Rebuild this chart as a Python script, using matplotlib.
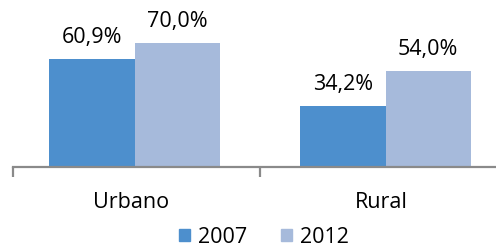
import numpy as np
from matplotlib import pyplot as plt
from matplotlib.patches import Patch

categories = ["Urbano", "Rural"]
years = ["2007", "2012"]
values_2007 = [60.9, 34.2]
values_2012 = [70.0, 54.0]

colors = ["#4d8fcd", "#a6badb"]
axis_color = "#8a8a8a"

plt.rcParams['font.family'] = ['Open Sans', 'DejaVu Sans']

fig = plt.figure(figsize=(4.96, 2.47), dpi=100)
# axes spans from the left tick to the right edge, bottom spine at the baseline
ax = fig.add_axes([13 / 496, 80 / 247, 483 / 496, 167 / 247])

x = np.arange(len(categories))
width = 0.34

series = [values_2007, values_2012]
for i, vals in enumerate(series):
    pos = x + (i - 0.5) * width
    bars = ax.bar(pos, vals, width, color=colors[i], label=years[i])
    for b, v in zip(bars, vals):
        ax.annotate(
            f"{v:.1f}%".replace(".", ","),
            (b.get_x() + b.get_width() / 2, v),
            xytext=(0, 8),
            textcoords="offset points",
            ha="center",
            va="bottom",
            fontsize=15.5,
            color="#000000",
        )

ax.set_xlim(-0.484, 1.44)
ax.set_ylim(0, 94.3)

for side in ["top", "right", "left"]:
    ax.spines[side].set_visible(False)
ax.spines["bottom"].set_color(axis_color)
ax.spines["bottom"].set_linewidth(1.6)

ax.set_yticks([])
ax.set_xticks(x - 0.015)
ax.set_xticklabels(categories, fontsize=15.5, color="#000000")
ax.tick_params(axis="x", which="major", length=0, pad=18)
ax.set_xticks([-0.484, 0.5], minor=True)
ax.tick_params(axis="x", which="minor", length=7, width=1.6, color=axis_color, direction="out")

handles = [Patch(color=c) for c in colors]
fig.legend(
    handles,
    years,
    loc="center",
    bbox_to_anchor=(264 / 496, 1 - 237 / 247),
    ncol=2,
    frameon=False,
    fontsize=15.5,
    handlelength=0.5,
    handleheight=0.5,
    handletextpad=0.35,
    columnspacing=1.6,
    borderaxespad=0,
    borderpad=0,
)

fig.savefig("out.png", dpi=100)
